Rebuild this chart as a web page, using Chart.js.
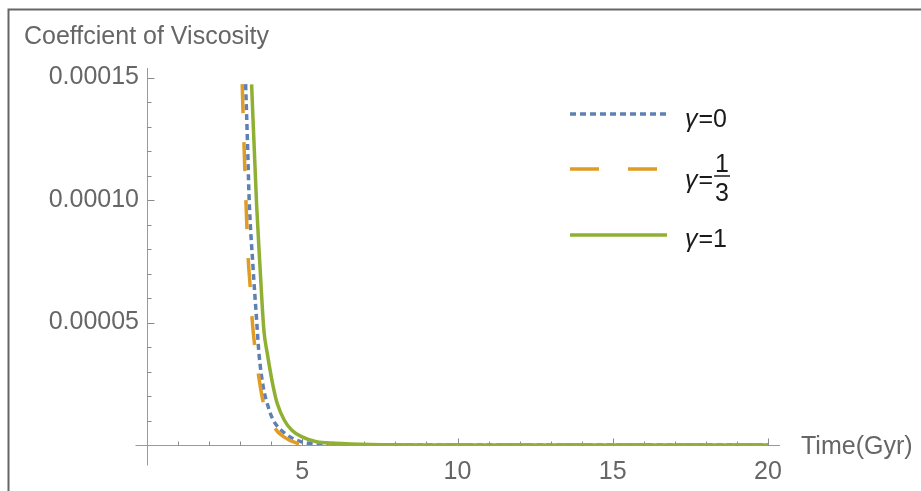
<!DOCTYPE html>
<html>
<head>
<meta charset="utf-8">
<script src="https://cdn.jsdelivr.net/npm/chart.js@4.4.1/dist/chart.umd.min.js"></script>
<style>
  html, body { margin: 0; padding: 0; background: #fff; }
  #wrap { width: 921px; height: 491px; position: relative; }
</style>
</head>
<body>
<div id="wrap"><canvas id="graph" width="921" height="491"></canvas></div>
<script>
// values: time in Gyr, coefficient of viscosity
var timeGamma0 = [3.176, 3.234, 3.291, 3.41, 3.53, 3.604, 3.742, 3.903, 4.064, 4.44, 4.977, 5.73, 6.8, 20];
var viscGamma0 = [14.73e-5, 12.45e-5, 10.0e-5, 7.35e-5, 5.10e-5, 3.76e-5, 2.38e-5, 1.56e-5, 1.02e-5, 0.48e-5, 0.13e-5, 0.04e-5, 0.005e-5, 0];

var timeGammaThird = [3.066, 3.121, 3.185, 3.259, 3.324, 3.388, 3.459, 3.581, 3.742, 4.118, 4.408, 4.817, 5.4, 6.5, 20];
var viscGammaThird = [14.73e-5, 12.38e-5, 10.0e-5, 7.63e-5, 6.45e-5, 5.10e-5, 4.16e-5, 2.94e-5, 1.76e-5, 0.69e-5, 0.33e-5, 0.08e-5, 0.02e-5, 0, 0];

var timeGamma1 = [3.369, 3.53, 3.636, 3.764, 3.871, 4.064, 4.192, 4.418, 4.656, 4.977, 5.46, 6.05, 7.2, 9, 20];
var viscGamma1 = [14.72e-5, 9.80e-5, 7.35e-5, 4.69e-5, 3.76e-5, 2.38e-5, 1.70e-5, 1.02e-5, 0.61e-5, 0.34e-5, 0.13e-5, 0.07e-5, 0.02e-5, 0.003e-5, 0];

var xMajorTicks = [5, 10, 15, 20];
var yMajorTicks = [0.00005, 0.00010, 0.00015];
var xMinorStep = 1;
var yMinorStep = 0.00001;

var seriesNames = ["0", "1/3", "1"];
var seriesColors = ["#5E81B5", "#E19C24", "#8FB032"];

var yAxisTitle = "Coeffcient of Viscosity";
var xAxisTitle = "Time(Gyr)";

var fontFamily = '"Liberation Sans", Arial, sans-serif';
Chart.defaults.font.family = fontFamily;

var toPoints = function(ts, vs){
  var pts = [];
  for (var i = 0; i < ts.length; i++) pts.push({x: ts[i], y: vs[i]});
  return pts;
};

// axes with inward ticks, frame, titles and legend like the original plot
var mmaPlugin = {
  id: 'mmaLook',
  beforeDatasetsDraw: function(chart){
    var ctx = chart.ctx, xs = chart.scales.x, ys = chart.scales.y;
    var x0 = Math.round(xs.getPixelForValue(0)) + 0.5;
    var y0 = Math.round(ys.getPixelForValue(0)) + 0.5;
    ctx.save();
    ctx.lineWidth = 1;
    ctx.strokeStyle = '#9a9a9a';
    ctx.beginPath();
    ctx.moveTo(x0, chart.chartArea.top);
    ctx.lineTo(x0, y0 + 20);
    ctx.moveTo(x0 - 12, y0);
    ctx.lineTo(xs.getPixelForValue(20) + 12, y0);
    ctx.stroke();

    ctx.strokeStyle = '#8a8a8a';
    ctx.beginPath();
    // x ticks point up
    for (var t = xMinorStep; t <= 20 + 1e-9; t += xMinorStep) {
      var px = Math.round(xs.getPixelForValue(t)) + 0.5;
      var len = xMajorTicks.indexOf(Math.round(t)) >= 0 ? 7 : 4;
      ctx.moveTo(px, y0);
      ctx.lineTo(px, y0 - len);
    }
    // y ticks point right
    for (var k = 1; k <= 15; k++) {
      var v = k * yMinorStep;
      var py = Math.round(ys.getPixelForValue(v)) + 0.5;
      var major = (k % 5 === 0);
      ctx.moveTo(x0, py);
      ctx.lineTo(x0 + (major ? 7 : 4), py);
    }
    ctx.stroke();
    ctx.restore();
  },
  afterDraw: function(chart){
    var ctx = chart.ctx;
    ctx.save();
    // frame (only top and left visible in the crop)
    ctx.strokeStyle = '#666';
    ctx.lineWidth = 2;
    ctx.beginPath();
    ctx.moveTo(8.5, 491);
    ctx.lineTo(8.5, 9.5);
    ctx.lineTo(921, 9.5);
    ctx.stroke();

    // axis titles
    ctx.fillStyle = '#666';
    ctx.font = '25px ' + fontFamily;
    ctx.textBaseline = 'alphabetic';
    ctx.textAlign = 'left';
    ctx.fillText(yAxisTitle, 24, 44);
    ctx.fillText(xAxisTitle, 801, 454);

    // legend
    var rows = [114, 169, 235];
    var textY = [127, 188, 247];
    for (var i = 0; i < 3; i++) {
      ctx.strokeStyle = seriesColors[i];
      ctx.lineWidth = 3.5;
      ctx.setLineDash(i === 0 ? [6, 4] : (i === 1 ? [29, 29] : []));
      ctx.beginPath();
      ctx.moveTo(570, rows[i]);
      ctx.lineTo(667, rows[i]);
      ctx.stroke();
      ctx.setLineDash([]);

      ctx.fillStyle = '#1a1a1a';
      ctx.font = 'italic 25px ' + fontFamily;
      ctx.fillText('\u03b3', 685, textY[i]);
      var gx = 685 + ctx.measureText('\u03b3').width + 1;
      ctx.font = '25px ' + fontFamily;
      if (seriesNames[i] === '1/3') {
        ctx.fillText('=', gx, textY[i]);
        var fx = gx + ctx.measureText('=').width + 1;
        var fw = ctx.measureText('3').width + 2;
        ctx.textAlign = 'center';
        ctx.fillText('1', fx + fw / 2, textY[i] - 16);
        ctx.fillText('3', fx + fw / 2, textY[i] + 13);
        ctx.textAlign = 'left';
        ctx.lineWidth = 1.5;
        ctx.strokeStyle = '#1a1a1a';
        ctx.beginPath();
        ctx.moveTo(fx, textY[i] - 12);
        ctx.lineTo(fx + fw, textY[i] - 12);
        ctx.stroke();
      } else {
        ctx.fillText('=' + seriesNames[i], gx, textY[i]);
      }
    }
    ctx.restore();
  }
};

var ctx = document.getElementById('graph').getContext('2d');
var chart = new Chart(ctx, {
  type: 'scatter',
  data: {
    datasets: [
      {
        label: 'gamma=0',
        data: toPoints(timeGamma0, viscGamma0),
        showLine: true,
        borderColor: seriesColors[0],
        borderWidth: 3.5,
        borderDash: [6, 4],
        pointRadius: 0,
        cubicInterpolationMode: 'monotone',
        order: 3
      },
      {
        label: 'gamma=1/3',
        data: toPoints(timeGammaThird, viscGammaThird),
        showLine: true,
        borderColor: seriesColors[1],
        borderWidth: 3.5,
        borderDash: [29, 29],
        pointRadius: 0,
        cubicInterpolationMode: 'monotone',
        order: 2
      },
      {
        label: 'gamma=1',
        data: toPoints(timeGamma1, viscGamma1),
        showLine: true,
        borderColor: seriesColors[2],
        borderWidth: 3.5,
        pointRadius: 0,
        cubicInterpolationMode: 'monotone',
        order: 1
      }
    ]
  },
  options: {
    responsive: false,
    animation: false,
    devicePixelRatio: 1,
    layout: { padding: { left: 0, right: 153, top: 68, bottom: 0 } },
    plugins: { legend: { display: false }, tooltip: { enabled: false } },
    scales: {
      x: {
        type: 'linear',
        min: 0,
        max: 20,
        afterFit: function(scale){ scale.height = 46; },
        grid: { display: false, drawTicks: false },
        border: { display: false },
        ticks: {
          stepSize: 5,
          padding: 12,
          color: '#666',
          font: { size: 25 },
          maxRotation: 0,
          callback: function(v){ return xMajorTicks.indexOf(v) >= 0 ? String(v) : ''; }
        }
      },
      y: {
        type: 'linear',
        min: 0,
        max: 0.0001539,
        afterFit: function(scale){ scale.width = 147; },
        grid: { display: false, drawTicks: false },
        border: { display: false },
        ticks: {
          stepSize: 0.00005,
          includeBounds: false,
          padding: 8,
          color: '#666',
          font: { size: 25 },
          callback: function(v){ return v > 1e-9 ? v.toFixed(5) : ''; }
        }
      }
    }
  },
  plugins: [mmaPlugin]
});
</script>
</body>
</html>
